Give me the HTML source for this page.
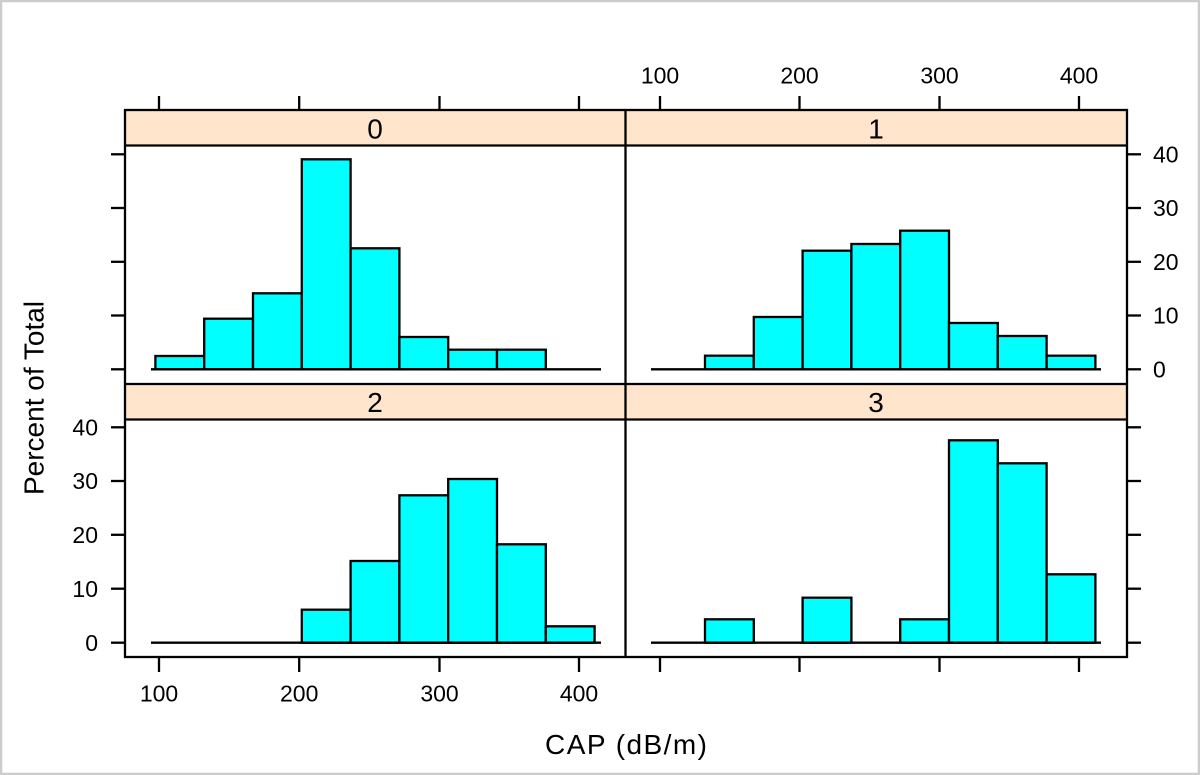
<!DOCTYPE html>
<html>
<head>
<meta charset="utf-8">
<style>
  html, body { margin: 0; padding: 0; background: #ffffff; }
  svg { display: block; }
  text { font-family: "Liberation Sans", Arial, sans-serif; fill: #000; }
</style>
</head>
<body>
<svg width="1200" height="775" viewBox="0 0 1200 775" xmlns="http://www.w3.org/2000/svg">
  <rect x="0" y="0" width="1200" height="775" fill="#ffffff"/>
  <rect x="1" y="1" width="1198" height="773" fill="none" stroke="#cccccc" stroke-width="2.5"/>

  <!-- Strips -->
  <rect x="125" y="110" width="500.5" height="35.5" fill="#ffe5cc"/>
  <rect x="625.5" y="110" width="501.5" height="35.5" fill="#ffe5cc"/>
  <rect x="125" y="384" width="500.5" height="35.5" fill="#ffe5cc"/>
  <rect x="625.5" y="384" width="501.5" height="35.5" fill="#ffe5cc"/>

  <!-- Strip labels -->
  <g font-size="28" text-anchor="middle">
    <text x="375" y="138.5">0</text>
    <text x="876" y="138.5">1</text>
    <text x="375" y="412">2</text>
    <text x="876" y="412">3</text>
  </g>

  <!-- Bars -->
  <g fill="#00ffff" stroke="#000" stroke-width="2.3">
    <!-- panel 0 -->
    <rect x="155.4" y="356" width="48.8" height="13.3"/>
    <rect x="204.2" y="318.7" width="48.8" height="50.6"/>
    <rect x="253" y="293.3" width="48.8" height="76"/>
    <rect x="301.8" y="159.3" width="48.8" height="210"/>
    <rect x="350.6" y="248.3" width="48.8" height="121"/>
    <rect x="399.4" y="337" width="48.8" height="32.3"/>
    <rect x="448.2" y="349.7" width="48.8" height="19.6"/>
    <rect x="497" y="349.7" width="48.8" height="19.6"/>
    <!-- panel 1 -->
    <rect x="705" y="355.7" width="48.8" height="13.6"/>
    <rect x="753.8" y="317" width="48.8" height="52.3"/>
    <rect x="802.6" y="250.7" width="48.8" height="118.6"/>
    <rect x="851.4" y="244" width="48.8" height="125.3"/>
    <rect x="900.2" y="230.7" width="48.8" height="138.6"/>
    <rect x="949" y="323" width="48.8" height="46.3"/>
    <rect x="997.8" y="336" width="48.8" height="33.3"/>
    <rect x="1046.6" y="355.7" width="48.8" height="13.6"/>
    <!-- panel 2 -->
    <rect x="301.8" y="609.7" width="48.8" height="33"/>
    <rect x="350.6" y="561" width="48.8" height="81.7"/>
    <rect x="399.4" y="495.3" width="48.8" height="147.4"/>
    <rect x="448.2" y="479" width="48.8" height="163.7"/>
    <rect x="497" y="544.3" width="48.8" height="98.4"/>
    <rect x="545.8" y="626.3" width="48.8" height="16.4"/>
    <!-- panel 3 -->
    <rect x="705" y="619.3" width="48.8" height="23.4"/>
    <rect x="802.6" y="597.7" width="48.8" height="45"/>
    <rect x="900.2" y="619.3" width="48.8" height="23.4"/>
    <rect x="949" y="440.3" width="48.8" height="202.4"/>
    <rect x="997.8" y="463.3" width="48.8" height="179.4"/>
    <rect x="1046.6" y="574.3" width="48.8" height="68.4"/>
  </g>

  <!-- Baselines -->
  <g stroke="#000" stroke-width="2.4">
    <line x1="151" y1="369.3" x2="601" y2="369.3"/>
    <line x1="651" y1="369.3" x2="1101" y2="369.3"/>
    <line x1="151" y1="642.7" x2="601" y2="642.7"/>
    <line x1="651" y1="642.7" x2="1101" y2="642.7"/>
  </g>

  <!-- Panel frames -->
  <g fill="none" stroke="#000" stroke-width="2.3">
    <rect x="125" y="110" width="1002" height="547"/>
    <line x1="625.5" y1="110" x2="625.5" y2="657"/>
    <line x1="125" y1="145.5" x2="1127" y2="145.5"/>
    <line x1="125" y1="384" x2="1127" y2="384"/>
    <line x1="125" y1="419.5" x2="1127" y2="419.5"/>
  </g>

  <!-- Ticks -->
  <g stroke="#000" stroke-width="2.3">
    <!-- top ticks -->
    <line x1="159" y1="96" x2="159" y2="110"/>
    <line x1="299.2" y1="96" x2="299.2" y2="110"/>
    <line x1="439.5" y1="96" x2="439.5" y2="110"/>
    <line x1="579" y1="96" x2="579" y2="110"/>
    <line x1="660" y1="96" x2="660" y2="110"/>
    <line x1="799.5" y1="96" x2="799.5" y2="110"/>
    <line x1="939.5" y1="96" x2="939.5" y2="110"/>
    <line x1="1079" y1="96" x2="1079" y2="110"/>
    <!-- bottom ticks -->
    <line x1="159" y1="657" x2="159" y2="672"/>
    <line x1="299.2" y1="657" x2="299.2" y2="672"/>
    <line x1="439.5" y1="657" x2="439.5" y2="672"/>
    <line x1="579" y1="657" x2="579" y2="672"/>
    <line x1="660" y1="657" x2="660" y2="672"/>
    <line x1="799.5" y1="657" x2="799.5" y2="672"/>
    <line x1="939.5" y1="657" x2="939.5" y2="672"/>
    <line x1="1079" y1="657" x2="1079" y2="672"/>
    <!-- left ticks row 1 -->
    <line x1="111" y1="154.3" x2="125" y2="154.3"/>
    <line x1="111" y1="208" x2="125" y2="208"/>
    <line x1="111" y1="261.8" x2="125" y2="261.8"/>
    <line x1="111" y1="315.5" x2="125" y2="315.5"/>
    <line x1="111" y1="369.3" x2="125" y2="369.3"/>
    <!-- left ticks row 2 -->
    <line x1="111" y1="427.3" x2="125" y2="427.3"/>
    <line x1="111" y1="481" x2="125" y2="481"/>
    <line x1="111" y1="534.8" x2="125" y2="534.8"/>
    <line x1="111" y1="588.7" x2="125" y2="588.7"/>
    <line x1="111" y1="642.7" x2="125" y2="642.7"/>
    <!-- right ticks row 1 -->
    <line x1="1127" y1="154.3" x2="1141" y2="154.3"/>
    <line x1="1127" y1="208" x2="1141" y2="208"/>
    <line x1="1127" y1="261.8" x2="1141" y2="261.8"/>
    <line x1="1127" y1="315.5" x2="1141" y2="315.5"/>
    <line x1="1127" y1="369.3" x2="1141" y2="369.3"/>
    <!-- right ticks row 2 -->
    <line x1="1127" y1="427.3" x2="1141" y2="427.3"/>
    <line x1="1127" y1="481" x2="1141" y2="481"/>
    <line x1="1127" y1="534.8" x2="1141" y2="534.8"/>
    <line x1="1127" y1="588.7" x2="1141" y2="588.7"/>
    <line x1="1127" y1="642.7" x2="1141" y2="642.7"/>
  </g>

  <!-- Tick labels -->
  <g font-size="23" text-anchor="middle">
    <text x="660" y="83.5">100</text>
    <text x="799.5" y="83.5">200</text>
    <text x="939.5" y="83.5">300</text>
    <text x="1079" y="83.5">400</text>
    <text x="159" y="701.5">100</text>
    <text x="299.2" y="701.5">200</text>
    <text x="439.5" y="701.5">300</text>
    <text x="579" y="701.5">400</text>
  </g>
  <g font-size="23" text-anchor="end">
    <text x="98" y="435.5">40</text>
    <text x="98" y="489.2">30</text>
    <text x="98" y="543">20</text>
    <text x="98" y="596.9">10</text>
    <text x="98" y="650.9">0</text>
  </g>
  <g font-size="23" text-anchor="start">
    <text x="1153" y="162.5">40</text>
    <text x="1153" y="216.2">30</text>
    <text x="1153" y="270">20</text>
    <text x="1153" y="323.7">10</text>
    <text x="1153" y="377.5">0</text>
  </g>

  <!-- Axis titles -->
  <text x="626" y="754" font-size="28" text-anchor="middle" textLength="162" lengthAdjust="spacing">CAP (dB/m)</text>
  <text transform="translate(43.5,398) rotate(-90)" font-size="28" text-anchor="middle">Percent of Total</text>
</svg>
</body>
</html>
